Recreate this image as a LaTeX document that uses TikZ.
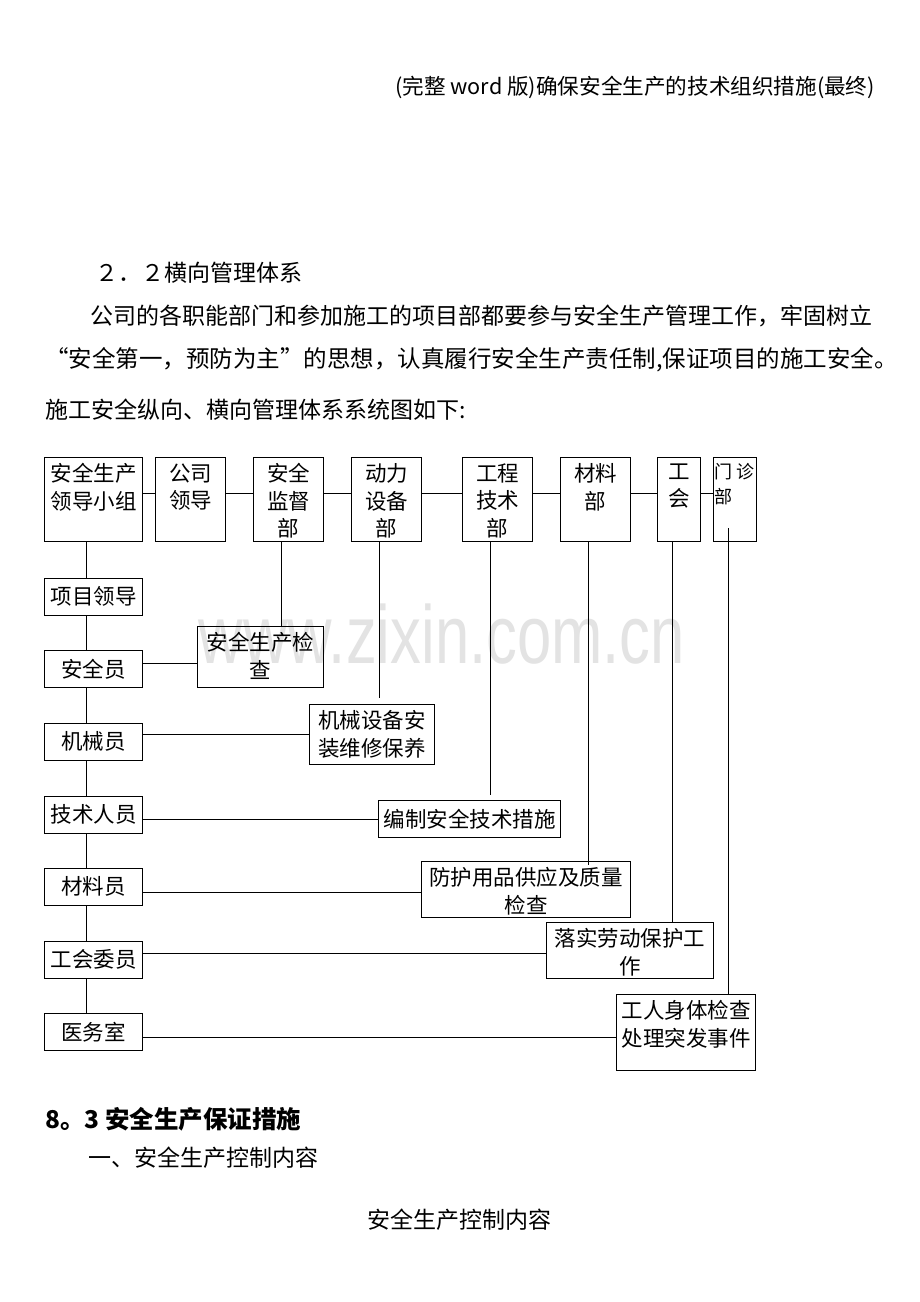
\documentclass[tikz,border=0pt]{standalone}
\usepackage{fontspec}
\setmainfont{Noto Sans CJK SC}
\newfontfamily\markfont{Liberation Sans}

% box text that starts at the top of its box
\newcommand{\topcell}[3]{\parbox[c][#2][t]{#1}{\vspace*{6pt}\centering #3}}

\begin{document}
\begin{tikzpicture}[x=1pt, y=-1pt,
  box/.style={draw, line width=1.1pt, inner sep=0pt, anchor=north west,
    font=\fontsize{21.5}{27.5}\selectfont},
  item/.style={box, minimum height=36.5pt, align=center},
  link/.style={line width=1.1pt},
  txt/.style={inner sep=0pt, font=\fontsize{23}{23}\selectfont},
  wmark/.style={inner sep=0pt, text=gray!22, font=\markfont\fontsize{61}{61}\selectfont}]
  \useasboundingbox[fill=white] (0,0) rectangle (920,1302);

  \node[wmark] (wm) at (442,634) {\scalebox{1.01}[1.35]{www.zixin.com.cn}};

  % page text
  \node[txt, anchor=east, font=\fontsize{21.6}{21.6}\selectfont] (head) at (875,87)
    {(完整 word 版)确保安全生产的技术组织措施(最终)};
  \node[txt, anchor=west] (sec) at (95,273) {２．２横向管理体系};
  \node[txt, anchor=west] (par1) at (90,316)
    {公司的各职能部门和参加施工的项目部都要参与安全生产管理工作，牢固树立};
  \node[txt, anchor=west, font=\fontsize{23.5}{23.5}\selectfont] (par2) at (45,360)
    {\makebox[23.5pt]{“}安全第一，预防为主\makebox[23.5pt]{”}的思想，认真履行安全生产责任制,保证项目的施工安全。};
  \node[txt, anchor=west] (par3) at (45,410) {施工安全纵向、横向管理体系系统图如下:};

  % top row
  \node[box] (lead) at (44,457) {\topcell{98pt}{84pt}{安全生产\\领导小组}};
  \node[box] (gsld) at (155,457) {\topcell{70pt}{84pt}{公司\\领导}};
  \node[box] (ajb) at (253,457) {\topcell{70pt}{84pt}{安全\\监督\\部}};
  \node[box] (dlb) at (351,457) {\topcell{70pt}{84pt}{动力\\设备\\部}};
  \node[box] (gcb) at (462,457) {\topcell{70pt}{84pt}{工程\\技术\\部}};
  \node[box] (clb) at (560,457) {\topcell{70pt}{84pt}{材料\\部}};
  \node[box] (ghb) at (657,457) {\topcell{43pt}{84pt}{工\\会}};
  \node[box, font=\fontsize{18}{25}\selectfont] (mzb) at (713,457)
    {\parbox[c][84pt][t]{43pt}{\vspace*{6pt}\raggedright\hspace{1pt}门\hspace{4pt}诊\\\hspace*{1pt}部}};

  % left column
  \node[item, minimum width=98pt] (xmld) at (44,578) {项目领导};
  \node[item, minimum width=98pt] (aqy) at (44,650) {安全员};
  \node[item, minimum width=98pt] (jxy) at (44,723) {机械员};
  \node[item, minimum width=98pt] (jsry) at (44,796) {技术人员};
  \node[item, minimum width=98pt] (cly) at (44,868) {材料员};
  \node[item, minimum width=98pt] (ghwy) at (44,941) {工会委员};
  \node[item, minimum width=98pt] (yws) at (44,1013) {医务室};

  % tasks
  \node[box] (aqjc) at (197,626) {\topcell{126pt}{61pt}{安全生产检\\查}};
  \node[box] (jxwx) at (309,704) {\topcell{125pt}{60pt}{机械设备安\\装维修保养}};
  \node[item, minimum width=182pt] (bzcs) at (378,800) {编制安全技术措施};
  \node[box] (fhyp) at (421,861) {\topcell{209pt}{56pt}{防护用品供应及质量\\检查}};
  \node[box] (lsld) at (546,922) {\topcell{167pt}{56pt}{落实劳动保护工\\作}};
  \node[box] (grtj) at (616,994) {\topcell{139pt}{76pt}{工人身体检查\\处理突发事件}};

  % connectors
  \foreach \a/\b in {lead/gsld, gsld/ajb, ajb/dlb, dlb/gcb, gcb/clb, clb/ghb, ghb/mzb}
    \draw[link] ([yshift=6pt]\a.east) -- ([yshift=6pt]\b.west);
  \foreach \a/\b in {lead/xmld, xmld/aqy, aqy/jxy, jxy/jsry, jsry/cly, cly/ghwy, ghwy/yws}
    \draw[link] ([xshift=-7pt]\a.south) -- ([xshift=-7pt]\b.north);

  \draw[link] ([xshift=-7pt]ajb.south) -- ([xshift=-7pt]ajb.south |- aqjc.north);
  \draw[link] ([xshift=-7pt]dlb.south) -- ([xshift=-7pt,yshift=6pt]dlb.south |- jxwx.north);
  \draw[link] ([xshift=-7pt]gcb.south) -- ([xshift=-7pt,yshift=5pt]gcb.south |- bzcs.north);
  \draw[link] ([xshift=-7pt]clb.south) -- ([xshift=-7pt,yshift=-4pt]clb.south |- fhyp.north);
  \draw[link] ([xshift=-7pt]ghb.south) -- ([xshift=-7pt]ghb.south |- lsld.north);
  \draw[link] ([xshift=-7pt,yshift=14pt]mzb.south) -- ([xshift=-7pt]mzb.south |- grtj.north);

  \draw[link] ([yshift=5.5pt]aqy.east) -- ([yshift=5.5pt]aqy.east -| aqjc.west);
  \draw[link] ([yshift=7pt]jxy.east) -- ([yshift=7pt]jxy.east -| jxwx.west);
  \draw[link] ([yshift=-5pt]jsry.east) -- ([yshift=-5pt]jsry.east -| bzcs.west);
  \draw[link] ([yshift=-6pt]cly.east) -- ([yshift=-6pt]cly.east -| fhyp.west);
  \draw[link] ([yshift=6pt]ghwy.east) -- ([yshift=6pt]ghwy.east -| lsld.west);
  \draw[link] ([yshift=-5.5pt]yws.east) -- ([yshift=-5.5pt]yws.east -| grtj.west);

  % text below
  \node[txt, anchor=west, font=\fontsize{24.5}{24.5}\selectfont\bfseries] (sub) at (45,1119)
    {8。3 安全生产保证措施};
  \node[txt, anchor=west] (item1) at (88,1158) {一、安全生产控制内容};
  \node[txt, anchor=west] (title) at (367,1220) {安全生产控制内容};
\end{tikzpicture}
\end{document}
